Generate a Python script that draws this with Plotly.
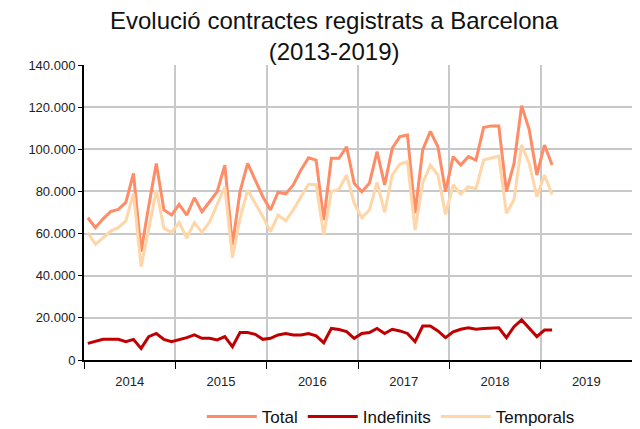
import plotly.graph_objects as go

years = ["2014", "2015", "2016", "2017", "2018", "2019"]

total = [67.5, 62.8, 67.0, 70.4, 71.5, 74.8, 88.6, 51.4, 73.0, 93.3, 71.2, 68.8,
         73.9, 68.8, 77.0, 70.4, 75.1, 79.9, 92.5, 54.6, 79.9, 93.3, 85.4, 77.5,
         71.2, 79.6, 78.8, 83.1, 90.2, 96.0, 94.9, 66.4, 95.7, 95.7, 101.2, 83.9,
         79.9, 83.9, 98.9, 83.1, 100.5, 106.0, 106.8, 69.6, 99.7, 108.5, 101.2, 79.9,
         96.5, 92.5, 96.5, 94.9, 110.3, 111.1, 111.1, 79.9, 93.3, 120.7, 109.2, 87.8,
         102.0, 92.5]
indefinits = [7.9, 8.8, 9.8, 9.8, 9.8, 8.7, 9.8, 5.5, 11.1, 12.6, 9.8, 8.7,
              9.5, 10.6, 11.9, 10.3, 10.3, 9.5, 11.1, 6.3, 13.0, 13.0, 12.2, 9.8,
              10.3, 11.9, 12.6, 11.9, 11.9, 12.6, 11.5, 8.2, 15.0, 14.5, 13.5, 10.3,
              12.6, 13.0, 15.0, 12.6, 14.6, 13.8, 12.6, 8.7, 16.1, 16.1, 13.8, 10.6,
              13.4, 14.6, 15.3, 14.6, 15.0, 15.3, 15.3, 10.6, 15.8, 19.0, 15.0, 11.1,
              14.2, 14.2]
temporals = [60.4, 54.9, 58.0, 61.2, 62.8, 66.0, 79.1, 44.3, 62.0, 80.7, 62.5, 60.6,
             65.3, 57.8, 65.2, 60.6, 65.6, 73.6, 82.2, 48.6, 67.2, 80.7, 74.4, 68.0,
             60.9, 68.8, 66.0, 71.2, 77.5, 83.4, 83.2, 59.3, 79.9, 81.0, 87.8, 74.4,
             67.5, 71.2, 84.3, 70.1, 87.8, 93.0, 94.1, 61.7, 83.9, 92.5, 87.8, 69.1,
             83.1, 78.8, 82.2, 81.2, 94.9, 96.0, 96.8, 69.6, 76.2, 102.0, 93.3, 77.5,
             87.8, 78.6]

x = list(range(len(total)))

fig = go.Figure()
fig.add_trace(go.Scatter(x=x, y=[v * 1000 for v in total], mode="lines", name="Total",
                         line=dict(color="#FF8C66", width=3)))
fig.add_trace(go.Scatter(x=x, y=[v * 1000 for v in indefinits], mode="lines", name="Indefinits",
                         line=dict(color="#C00000", width=3)))
fig.add_trace(go.Scatter(x=x, y=[v * 1000 for v in temporals], mode="lines", name="Temporals",
                         line=dict(color="#FFD6A8", width=3)))

fig.update_layout(
    width=632, height=421,
    margin=dict(l=76, r=8, t=57, b=69, autoexpand=False),
    paper_bgcolor="white", plot_bgcolor="white",
    separators=",.",
    font=dict(family="Liberation Sans, Arial, sans-serif", color="#222222"),
    title=dict(text="Evolució contractes registrats a Barcelona<br>(2013-2019)",
               x=0.516, xanchor="center", y=0.95, yanchor="top",
               font=dict(size=24, color="#111111")),
    showlegend=True,
    legend=dict(orientation="h", x=0.215, xanchor="left", y=-0.193, yanchor="middle",
                font=dict(size=17, color="#111111"), itemwidth=50,
                bgcolor="rgba(0,0,0,0)"),
    xaxis=dict(range=[-0.5, 71.5],
               tickvals=[5.5 + 12 * i for i in range(6)], ticktext=years,
               ticks="", showgrid=False, zeroline=False,
               showline=True, linecolor="black", linewidth=2,
               ticklabelstandoff=8,
               tickfont=dict(size=13, color="#222222"),
               minor=dict(tickvals=[-0.5 + 12 * i for i in range(7)], ticks="outside",
                          ticklen=7, tickcolor="black", tickwidth=1,
                          showgrid=True, gridcolor="#C8C8C8", gridwidth=1.5)),
    yaxis=dict(range=[0, 140000], tickvals=[20000 * i for i in range(8)],
               tickformat=",d", showgrid=True, gridcolor="#C8C8C8", gridwidth=1.5,
               zeroline=False, showline=True, linecolor="black", linewidth=2,
               ticks="outside", ticklen=4, tickcolor="black",
               tickfont=dict(size=13, color="#222222")),
)

fig.write_html("out.html")
